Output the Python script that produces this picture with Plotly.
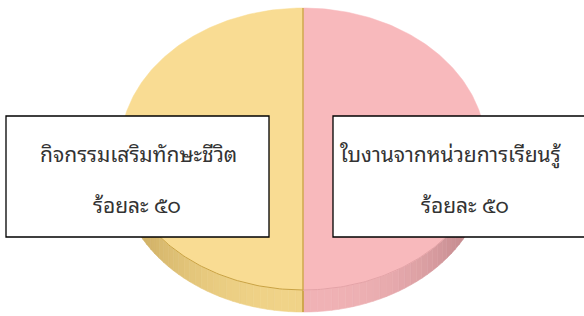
import numpy as np
import plotly.graph_objects as go

# ---- data ----
labels = ["ใบงานจากหน่วยการเรียนรู้", "กิจกรรมเสริมทักษะชีวิต"]
values = [50, 50]
value_text = ["ร้อยละ ๕๐", "ร้อยละ ๕๐"]

# ---- style ----
W, H = 584, 316
CX, CY, RX, RY, DEPTH = 303, 149, 183, 141, 22
top_colors = ["#f8b9bc", "#f9dc93"]
side_edge = ["#b47c81", "#c4a459"]
side_mid = ["#f0b2b5", "#f0d388"]
edge_line = ["#e4a3a7", "#c9a243"]


def mix(c1, c2, t):
    a = [int(c1[i:i + 2], 16) for i in (1, 3, 5)]
    b = [int(c2[i:i + 2], 16) for i in (1, 3, 5)]
    return "#" + "".join(f"{int(round(a[k] + (b[k] - a[k]) * t)):02x}" for k in range(3))


def pt(theta_deg, dy=0.0):
    th = np.radians(theta_deg)
    return CX + RX * np.sin(th), CY - RY * np.cos(th) + dy


fig = go.Figure()

total = float(sum(values))
starts, ends = [], []
acc = 0.0
for v in values:
    starts.append(acc / total * 360)
    acc += v
    ends.append(acc / total * 360)

# side walls (lower half only visible)
for i in range(len(values)):
    a0 = max(starts[i], 90)
    a1 = min(ends[i], 270)
    if a1 <= a0:
        continue
    n = 40
    edges = np.linspace(a0, a1, n + 1)
    for k in range(n):
        ta, tb = edges[k], edges[k + 1]
        ts = np.linspace(ta, tb, 6)
        xs_t, ys_t = pt(ts)
        xs_b, ys_b = pt(ts[::-1], DEPTH)
        xs = np.concatenate([xs_t, xs_b, xs_t[:1]])
        ys = np.concatenate([ys_t, ys_b, ys_t[:1]])
        tm = np.radians((ta + tb) / 2)
        shade = abs(np.sin(tm)) ** 2.5  # 1 at sides, 0 at bottom centre
        col = mix(side_mid[i], side_edge[i], shade)
        fig.add_trace(go.Scatter(x=xs, y=ys, mode="lines", fill="toself",
                                 fillcolor=col, line=dict(color=col, width=0.6),
                                 hoverinfo="skip", showlegend=False))

# side divider line at bottom
for i in range(len(values)):
    for a in (starts[i], ends[i]):
        if 90 < a % 360 < 270:
            x0, y0 = pt(a)
            x1, y1 = pt(a, DEPTH)
            fig.add_trace(go.Scatter(x=[x0, x1], y=[y0, y1], mode="lines",
                                     line=dict(color=edge_line[1], width=1.2),
                                     hoverinfo="skip", showlegend=False))

# top faces
for i in range(len(values)):
    ts = np.linspace(starts[i], ends[i], 200)
    xs, ys = pt(ts)
    xs = np.concatenate([[CX], xs, [CX]])
    ys = np.concatenate([[CY], ys, [CY]])
    fig.add_trace(go.Scatter(x=xs, y=ys, mode="lines", fill="toself",
                             fillcolor=top_colors[i],
                             line=dict(color=top_colors[i], width=0.5),
                             name=labels[i], hoverinfo="skip", showlegend=False))

# rim lines on lower edge of top face
for i in range(len(values)):
    a0 = max(starts[i], 90)
    a1 = min(ends[i], 270)
    ts = np.linspace(a0, a1, 100)
    xs, ys = pt(ts)
    fig.add_trace(go.Scatter(x=xs, y=ys, mode="lines",
                             line=dict(color=edge_line[i], width=1),
                             hoverinfo="skip", showlegend=False))

# centre divider
x0, y0 = pt(0)
x1, y1 = pt(180)
fig.add_trace(go.Scatter(x=[x0, x1], y=[y0, y1], mode="lines",
                         line=dict(color=edge_line[1], width=1.3),
                         hoverinfo="skip", showlegend=False))

# label boxes
boxes = [(333, 116, 588, 237), (6, 116, 269, 237)]
line1_x = [450, 138]
line2_x = [465, 137]
font = dict(family="Noto Sans Thai Looped, Loma, sans-serif", size=21, color="#333333")
for i in range(len(values)):
    bx0, by0, bx1, by1 = boxes[i]
    fig.add_shape(type="rect", x0=bx0, y0=by0, x1=bx1, y1=by1, xref="x", yref="y",
                  fillcolor="white", line=dict(color="black", width=1.3), layer="above")
    fig.add_annotation(x=line1_x[i], y=152, xref="x", yref="y", text=labels[i],
                       showarrow=False, font=font)
    fig.add_annotation(x=line2_x[i], y=203, xref="x", yref="y", text=value_text[i],
                       showarrow=False, font=font)

fig.update_layout(
    width=W, height=H, margin=dict(l=0, r=0, t=0, b=0),
    paper_bgcolor="white", plot_bgcolor="white",
    xaxis=dict(range=[0, W], visible=False, fixedrange=True),
    yaxis=dict(range=[H, 0], visible=False, fixedrange=True),
    showlegend=False,
)
fig.write_html("out.html", config={"displayModeBar": False},
               post_script="document.body.style.margin='0';")
